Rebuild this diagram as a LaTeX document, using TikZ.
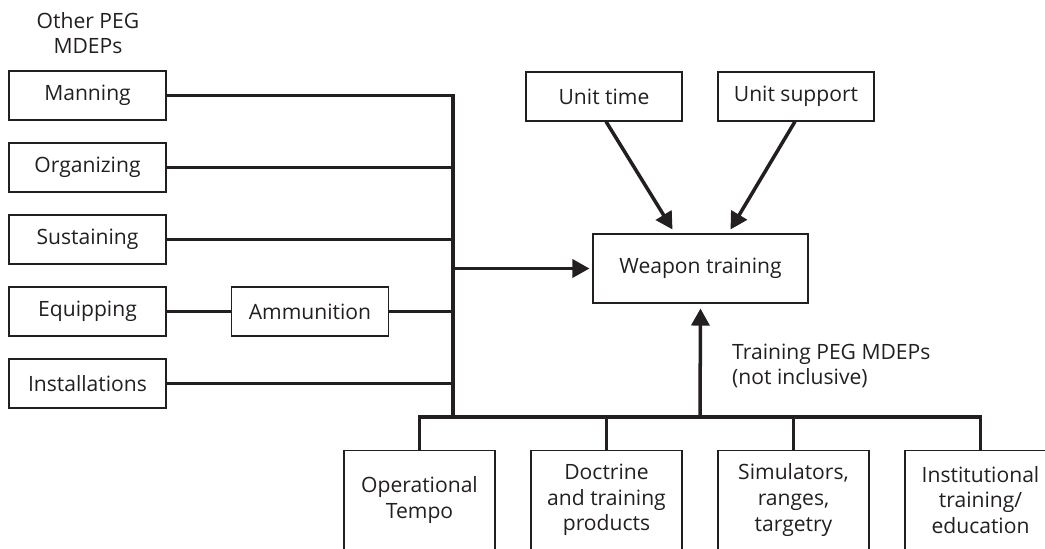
\documentclass[tikz,border=0pt]{standalone}
\usepackage{fontspec}
\setmainfont{Open Sans}
\usetikzlibrary{arrows.meta}
\definecolor{inkgray}{RGB}{35,31,32}
\tikzset{box/.style={draw, line width=0.6pt, minimum width=3.14cm, minimum height=0.98cm,
    inner sep=0pt, align=center}}
\tikzset{tallbox/.style={box, minimum width=3.02cm, minimum height=1.98cm}}
\tikzset{link/.style={line width=2pt}}
\tikzset{feed/.style={link, -{Triangle[length=0.34cm, width=0.36cm]}}}

\begin{document}
\begin{tikzpicture}[font=\fontsize{12}{14.6}\selectfont, color=inkgray]
   \useasboundingbox (0,0) rectangle (20.9,-10.96);
   \clip (0,0) rectangle (20.9,-10.96);
   % other PEG MDEPs
   \node[align=center] (other) at (1.76,-0.66) {Other PEG\\MDEPs};
   \node[box] (man) at (1.75,-1.91) {Manning};
   \node[box] (org) at (1.75,-3.35) {Organizing};
   \node[box] (sus) at (1.75,-4.79) {Sustaining};
   \node[box] (equ) at (1.75,-6.23) {Equipping};
   \node[box] (ins) at (1.75,-7.67) {Installations};
   \node[box] (ammo) at (6.20,-6.23) {Ammunition};
   % centre
   \node[box, minimum width=4.3cm, minimum height=1.38cm] (wt) at (14.01,-5.37) {Weapon training};
   \node[box, minimum width=3.12cm] (ut) at (12.08,-1.93) {Unit time};
   \node[box, minimum width=3.12cm] (us) at (15.92,-1.93) {Unit support};
   \node[anchor=west, align=left] (tpeg) at (14.52,-7.32) {Training PEG MDEPs\\(not inclusive)};
   % training PEG MDEPs
   \node[tallbox] (op) at (8.39,-10.0) {Operational\\Tempo};
   \node[tallbox] (doc) at (12.13,-10.0) {Doctrine\\and training\\products};
   \node[tallbox] (sim) at (15.87,-10.0) {Simulators,\\ranges,\\targetry};
   \node[tallbox] (inst) at (19.61,-10.0) {Institutional\\training/\\education};
   % bus
   \coordinate (top) at (9.06,-1.91);
   \coordinate (bus) at (9.06,-8.34);
   \coordinate (mid) at (9.06,-5.37);
   \coordinate (rail) at (14.0,-8.34);
   \draw[link] (man) -- (top) -- (bus);
   \draw[link] (org) -- (org -| top);
   \draw[link] (sus) -- (sus -| top);
   \draw[link] (equ) -- (ammo);
   \draw[link] (ammo) -- (ammo -| top);
   \draw[link] (ins) -- (ins -| top);
   \draw[link] (op.north) |- (rail) -| (inst.north);
   \draw[link] (doc.north) -- (doc.north |- rail);
   \draw[link] (sim.north) -- (sim.north |- rail);
   % arrows
   \draw[feed] (mid) -- ([xshift=-0.06cm]wt.west);
   \draw[feed] (rail) -- ([yshift=-0.1cm]wt.south);
   \draw[feed] ([xshift=0.04cm]ut.south) -- ([xshift=-0.56cm,yshift=0.08cm]wt.north);
   \draw[feed] ([xshift=-0.02cm]us.south) -- ([xshift=0.6cm,yshift=0.08cm]wt.north);
\end{tikzpicture}
\end{document}
